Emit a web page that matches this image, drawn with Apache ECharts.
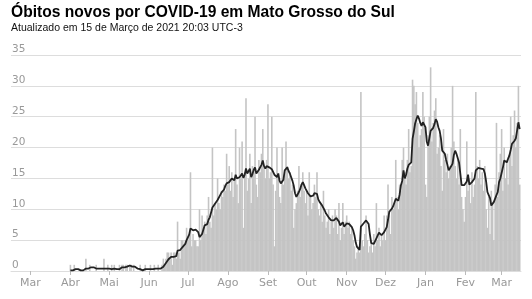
<!DOCTYPE html>
<html>
<head>
<meta charset="utf-8">
<script src="https://cdn.jsdelivr.net/npm/echarts@6/dist/echarts.min.js"></script>
<style>
html,body{margin:0;padding:0;background:#fff;}
#chart{width:532px;height:299px;}
</style>
</head>
<body>
<div id="chart"></div>
<script>
// Daily new deaths (bars), by month
const deaths2020Apr = [1,0,0,1,0,0,0,0,0,0,0,0,2,0,0,1,0,0,0,0,1,0,0,0,0,0,2,0,0,1];
const deaths2020May = [0,0,1,0,1,0,0,0,1,0,1,1,0,1,1,0,1,1,0,1,0,0,0,0,1,0,0,0,1,0,0];
const deaths2020Jun = [0,1,0,0,1,0,0,1,0,0,1,2,1,2,3,3,2,3,1,3,3,2,8,3,2,5,5,4,5,7];
const deaths2020Jul = [5,6,16,4,6,5,5,4,4,10,5,9,7,8,6,9,12,8,7,20,9,11,10,15,11,10,13,12,14,13,19];
const deaths2020Aug = [14,17,13,16,12,15,23,14,11,20,15,21,7,16,28,13,15,19,11,17,16,25,14,12,18,16,19,23,17,15,18];
const deaths2020Sep = [27,15,16,25,14,4,13,20,15,12,11,20,14,16,21,17,15,16,13,14,7,10,11,13,17,12,14,16,13,11];
const deaths2020Oct = [13,9,16,12,10,11,14,12,16,10,9,11,8,13,9,7,8,10,6,8,9,7,10,9,6,11,5,7,11,6,8];
const deaths2020Nov = [9,7,8,6,7,5,4,2,3,4,3,29,5,4,6,9,5,3,4,5,3,6,4,11,5,7,4,6,5,9];
const deaths2020Dec = [5,9,14,9,6,12,10,11,18,12,10,14,13,18,20,16,14,18,23,16,17,31,30,27,29,24,20,22,23,29,25];
const deaths2021Jan = [14,12,22,25,33,21,24,26,28,19,20,22,17,13,23,18,16,19,15,17,20,30,21,17,15,18,14,23,12,10,8];
const deaths2021Feb = [12,21,13,15,11,16,12,14,29,17,15,18,14,16,13,17,10,7,12,6,13,11,5,14,24,12,16,19];
const deaths2021Mar = [23,13,20,15,18,14,19,25,17,22,26,20,24,30,14];

// 7-day average (line), by month
const avg2020Apr = [0.1,0.1,0.1,0.3,0.3,0.3,0.3,0.1,0.1,0.1,0.1,0.1,0.4,0.4,0.4,0.6,0.6,0.6,0.6,0.3,0.4,0.4,0.4,0.4,0.4,0.1,0.4,0.4,0.4,0.6];
const avg2020May = [0.4,0.3,0.3,0.3,0.4,0.4,0.3,0.3,0.3,0.4,0.6,0.6,0.6,0.7,0.7,0.7,0.9,0.9,0.7,0.9,0.7,0.6,0.4,0.3,0.3,0.3,0.1,0.1,0.3,0.3,0.3];
const avg2020Jun = [0.3,0.3,0.3,0.3,0.3,0.4,0.4,0.4,0.4,0.4,0.6,0.7,1.0,1.3,1.6,1.9,2.0,2.3,2.3,2.3,2.4,2.4,3.3,3.6,3.4,3.6,3.9,4.1,4.4,5.0];
const avg2020Jul = [5.3,5.9,6.9,6.8,6.6,6.9,6.7,6.4,6.3,5.5,5.6,6.0,6.3,7.4,7.3,7.6,8.3,8.7,8.4,10.3,10.4,10.9,10.9,11.5,11.8,12.3,12.7,12.4,13.2,13.8,14.2];
const avg2020Aug = [14.2,14.4,14.6,15.0,14.8,14.7,15.6,15.0,14.7,15.2,15.5,15.8,15.1,15.6,16.6,15.8,16.0,16.6,15.2,15.7,16.4,16.8,15.8,16.0,16.4,16.6,17.2,17.9,17.0,16.6,17.0];
const avg2020Sep = [17.1,16.8,16.8,16.5,16.3,15.6,15.4,15.2,15.8,14.6,14.2,13.9,14.8,16.3,16.6,16.8,16.2,15.8,15.2,14.6,13.8,12.6,12.0,12.3,12.8,13.3,14.0,14.4,13.9,13.4];
const avg2020Oct = [13.1,12.6,12.3,12.1,12.0,12.2,12.6,12.8,12.5,11.6,11.2,10.9,10.6,10.3,9.8,9.3,9.0,8.7,8.4,8.2,8.4,8.2,8.5,8.6,8.3,8.0,7.4,7.7,7.9,7.2,7.5];
const avg2020Nov = [7.7,7.5,7.6,7.4,7.1,6.6,5.8,4.6,3.9,3.7,3.4,7.2,7.3,7.7,8.0,8.2,8.0,7.6,5.9,4.5,4.3,4.4,4.5,5.3,5.5,6.2,6.0,5.8,5.8,6.3];
const avg2020Dec = [6.5,7.1,8.3,9.6,9.6,10.1,10.5,10.7,11.7,11.5,11.4,12.4,13.9,14.6,16.3,15.0,15.6,16.6,17.2,17.0,17.6,21.4,22.6,23.9,24.6,25.2,24.7,24.0,23.5,24.1,23.8];
const avg2021Jan = [23.3,21.0,20.3,21.5,22.7,23.0,23.2,23.8,24.6,24.2,23.3,22.7,21.5,19.5,19.7,19.0,18.0,17.2,16.3,16.5,17.0,17.4,18.8,19.5,19.0,18.7,17.6,15.8,13.9,14.0,13.9];
const avg2021Feb = [13.9,14.5,15.6,14.0,14.2,14.4,14.2,15.0,16.3,16.6,16.7,16.7,16.6,16.6,16.5,15.8,14.5,12.8,12.3,11.8,10.6,10.8,11.2,11.5,12.3,12.8,14.4,15.0];
const avg2021Mar = [15.2,16.8,17.9,17.7,17.6,18.2,18.7,19.6,20.6,20.8,21.1,21.5,22.8,24.1,23.0];

// Month list: [year, monthIndex(0-based), deaths, avg]
const months = [
  [2020, 3, deaths2020Apr, avg2020Apr],
  [2020, 4, deaths2020May, avg2020May],
  [2020, 5, deaths2020Jun, avg2020Jun],
  [2020, 6, deaths2020Jul, avg2020Jul],
  [2020, 7, deaths2020Aug, avg2020Aug],
  [2020, 8, deaths2020Sep, avg2020Sep],
  [2020, 9, deaths2020Oct, avg2020Oct],
  [2020, 10, deaths2020Nov, avg2020Nov],
  [2020, 11, deaths2020Dec, avg2020Dec],
  [2021, 0, deaths2021Jan, avg2021Jan],
  [2021, 1, deaths2021Feb, avg2021Feb],
  [2021, 2, deaths2021Mar, avg2021Mar]
];

// X tick labels (first day of each month)
const tickLabels = ['Mar','Abr','Mai','Jun','Jul','Ago','Set','Out','Nov','Dez','Jan','Fev','Mar'];
const tickMonths = [[2020,2],[2020,3],[2020,4],[2020,5],[2020,6],[2020,7],[2020,8],[2020,9],[2020,10],[2020,11],[2021,0],[2021,1],[2021,2]];
const tickValues = tickMonths.map(m => Date.UTC(m[0], m[1], 1));

const barData = [];
const lineData = [];
months.forEach(([y, m, d, a]) => {
  d.forEach((v, i) => barData.push([Date.UTC(y, m, i + 1), v]));
  a.forEach((v, i) => lineData.push([Date.UTC(y, m, i + 1), v]));
});

const chart = echarts.init(document.getElementById('chart'), null, {renderer: 'canvas'});
chart.setOption({
  animation: false,
  backgroundColor: '#fff',
  title: {
    text: 'Óbitos novos por COVID-19 em Mato Grosso do Sul',
    subtext: 'Atualizado em 15 de Março de 2021 20:03 UTC-3',
    left: 6,
    top: 0,
    itemGap: 2,
    textStyle: {fontFamily: 'Liberation Sans', fontSize: 15.6, fontWeight: 'bold', color: '#000'},
    subtextStyle: {fontFamily: 'Liberation Sans', fontSize: 10.5, color: '#111'}
  },
  grid: {left: 11, right: 11, top: 55, bottom: 28, containLabel: false},
  xAxis: {
    type: 'value',
    min: Date.UTC(2020, 1, 15),
    max: Date.UTC(2021, 2, 16),
    axisLine: {show: true, onZero: false, lineStyle: {color: '#ddd', width: 1}},
    axisTick: {show: true, length: 4, customValues: tickValues, lineStyle: {color: '#bbb'}},
    axisLabel: {
      customValues: tickValues,
      formatter: function (val) {
        const idx = tickValues.indexOf(val);
        return idx >= 0 ? tickLabels[idx] : '';
      },
      color: '#999',
      fontFamily: 'DejaVu Sans',
      fontSize: 11,
      margin: 7
    },
    splitLine: {show: false}
  },
  yAxis: {
    type: 'value',
    min: 0,
    max: 35,
    interval: 5,
    axisLine: {show: false},
    axisTick: {show: false},
    axisLabel: {
      inside: true,
      verticalAlign: 'bottom',
      margin: 1,
      color: '#999',
      fontFamily: 'DejaVu Sans',
      fontSize: 10.5
    },
    splitLine: {show: true, lineStyle: {color: '#ddd', width: 1}}
  },
  series: [
    {
      type: 'bar',
      data: barData,
      barWidth: 1.6,
      itemStyle: {color: '#c4c4c4'},
      silent: true
    },
    {
      type: 'line',
      data: lineData,
      showSymbol: false,
      lineStyle: {color: '#222', width: 1.8},
      silent: true
    }
  ]
});
</script>
</body>
</html>
